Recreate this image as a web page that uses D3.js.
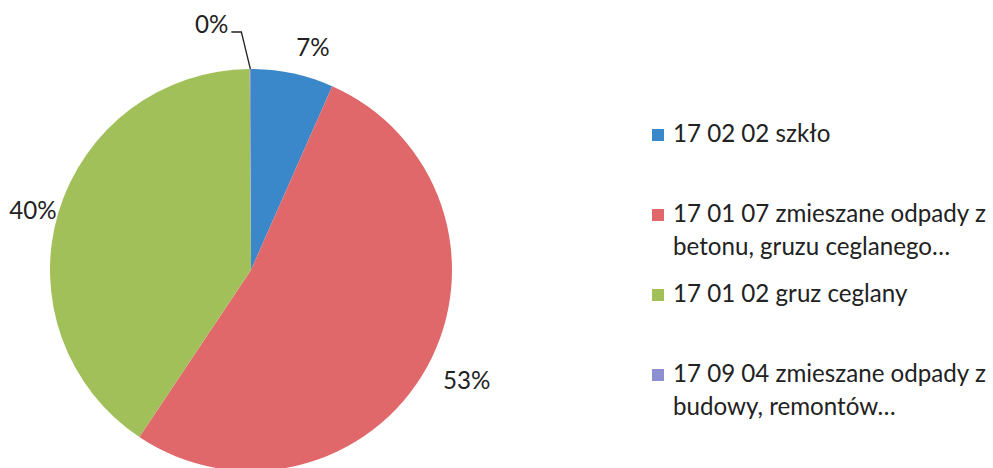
<!DOCTYPE html>
<html><head><meta charset="utf-8">
<script src="https://cdn.jsdelivr.net/npm/d3@7"></script>
<style>html,body{margin:0;padding:0;background:#fff;}svg{display:block;}</style>
</head><body>
<svg id="chart" width="993" height="468"></svg>
<script>
const categories = ["17 02 02 szkło", "17 01 07 zmieszane odpady z betonu, gruzu ceglanego…", "17 01 02 gruz ceglany", "17 09 04 zmieszane odpady z budowy, remontów…"];
const legendLines = [["17 02 02 szkło"], ["17 01 07 zmieszane odpady z", "betonu, gruzu ceglanego…"], ["17 01 02 gruz ceglany"], ["17 09 04 zmieszane odpady z", "budowy, remontów…"]];
const values = [6.6, 52.6, 40.4, 0.1];
const percentLabels = ["7%", "53%", "40%", "0%"];
const colors = ["#3a87c9", "#e0686a", "#a2c05a", "#8e8fd0"];

const svg = d3.select("#chart");
const font = "Lato, 'Open Sans', sans-serif";
const cx = 251, cy = 270, r = 201;

// fit legend font to reference width
const probe = svg.append("text").attr("font-family", font).attr("font-size", 20).text(legendLines[1][0]);
const fs = 20 * 313 / probe.node().getComputedTextLength();
probe.remove();

const pie = d3.pie().sort(null).value(d => d)(values);
const arc = d3.arc().innerRadius(0).outerRadius(r);
const g = svg.append("g").attr("transform", `translate(${cx},${cy})`);
g.selectAll("path").data(pie).join("path")
  .attr("d", arc).attr("fill", (d, i) => colors[i]);

// percent labels
const gap = 18, capH = 14;
pie.forEach((d, i) => {
  const mid = (d.startAngle + d.endAngle) / 2;
  const s = Math.sin(mid), c = Math.cos(mid);
  if (i === 3) {
    const p0 = [s * r, -c * r];
    const p1 = [p0[0] - 9, p0[1] - 37];
    const p2 = [p1[0] - 10, p1[1]];
    g.append("polyline").attr("points", [p0, p1, p2].map(p => p.join(",")).join(" "))
      .attr("fill", "none").attr("stroke", "#222").attr("stroke-width", 1.3);
    g.append("text").attr("x", p2[0] - 3).attr("y", p2[1] + 1)
      .attr("text-anchor", "end")
      .attr("font-family", font).attr("font-size", fs).attr("fill", "#222")
      .text(percentLabels[i]);
  } else if (s < 0) {
    // left side: text ends at pie edge
    const px = s * (r + 2), py = -c * (r + 2);
    g.append("text").attr("x", px).attr("y", py + capH / 2)
      .attr("text-anchor", "end")
      .attr("font-family", font).attr("font-size", fs).attr("fill", "#222")
      .text(percentLabels[i]);
  } else {
    const t = g.append("text")
      .attr("font-family", font).attr("font-size", fs).attr("fill", "#222")
      .attr("text-anchor", "middle")
      .text(percentLabels[i]);
    const tw = t.node().getComputedTextLength();
    const px = s * (r + gap), py = -c * (r + gap);
    const x = px + tw / 2;
    const y = py - Math.sign(c) * capH / 2;
    t.attr("x", x).attr("y", y + capH / 2);
  }
});

// legend
const legY = d3.scalePoint().domain(d3.range(categories.length)).range([135, 375]);
const leg = svg.append("g");
legendLines.forEach((lines, i) => {
  const y0 = legY(i);
  const item = leg.append("g");
  item.append("rect").attr("x", 652).attr("y", y0 - 6)
    .attr("width", 12).attr("height", 12).attr("fill", colors[i]);
  lines.forEach((t, j) => {
    item.append("text").attr("x", 673)
      .attr("y", y0 + 7 + j * 33)
      .attr("font-family", font).attr("font-size", fs).attr("fill", "#222")
      .text(t);
  });
});
</script>
</body></html>
